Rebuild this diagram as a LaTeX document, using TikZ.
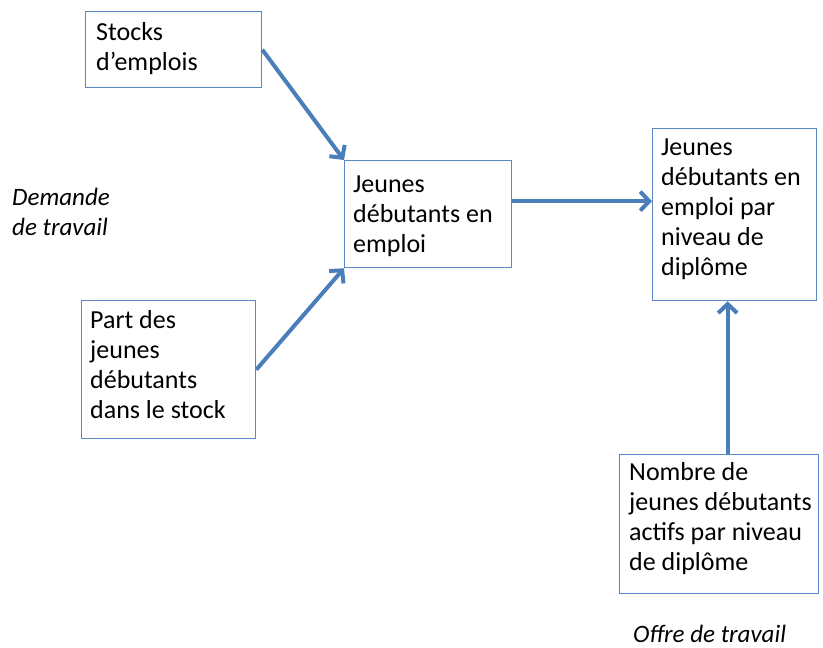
\documentclass[tikz,border=0pt]{standalone}
\usepackage{fontspec}
\setmainfont{Carlito}
\usetikzlibrary{arrows.meta,calc}
\definecolor{boxline}{HTML}{5B87C4}
\definecolor{flow}{HTML}{4A7EBB}
\tikzset{
  box/.style={draw=boxline, line width=1.3pt, fill=white, inner sep=0pt, anchor=north west},
  % the base anchor of a multi-line text is the baseline of its last line
  boxtext/.style={anchor=base west, align=left, inner sep=0pt,
    font=\fontsize{26}{30}\selectfont},
  side/.style={anchor=base west, align=left, inner sep=0pt,
    font=\fontsize{25}{30}\selectfont\itshape},
  flowarrow/.style={draw=flow, line width=4pt,
    -{Straight Barb[length=9pt, width=19pt, line width=4pt]}},
}
\begin{document}
\begin{tikzpicture}[x=1pt, y=-1pt]
\useasboundingbox (0,0) rectangle (823,648);

% boxes
\node[box, minimum width=176pt, minimum height=76pt]  (b1) at (85,11)  {};
\node[box, minimum width=167pt, minimum height=107pt] (b2) at (344,160) {};
\node[box, minimum width=174pt, minimum height=138pt] (b3) at (81,300)  {};
\node[box, minimum width=164pt, minimum height=172pt] (b4) at (652,128) {};
\node[box, minimum width=199pt, minimum height=139pt] (b5) at (619,454) {};

% box texts (placed by the baseline of their last line)
\node[boxtext] (t1) at ($(b1.north west)+(11,59)$) {Stocks\\d’emplois};
\node[boxtext] (t2) at ($(b2.north west)+(9,92)$) {Jeunes\\débutants en\\emploi};
\node[boxtext] (t3) at ($(b3.north west)+(9,118)$) {Part des\\jeunes\\débutants\\dans le stock};
\node[boxtext] (t4) at ($(b4.north west)+(9,147)$) {Jeunes\\débutants en\\emploi par\\niveau de\\diplôme};
\node[boxtext] (t5) at ($(b5.north west)+(10,116)$) {Nombre de\\jeunes débutants\\actifs par niveau\\de diplôme};

% side labels
\node[side] (dem) at (12,235) {Demande\\de travail};
\node[side] (off) at (633,642) {Offre de travail};

% connectors
\draw[flowarrow] (b1.east) -- (b2.north west);
\draw[flowarrow] (b3.east) -- (b2.south west);
\draw[flowarrow] ([yshift=13pt]b2.east) -- ([yshift=13pt]b2.east -| b4.west);
\draw[flowarrow] ([xshift=8.5pt]b5.north) -- ([xshift=8.5pt]b5.north |- b4.south);
\end{tikzpicture}
\end{document}
